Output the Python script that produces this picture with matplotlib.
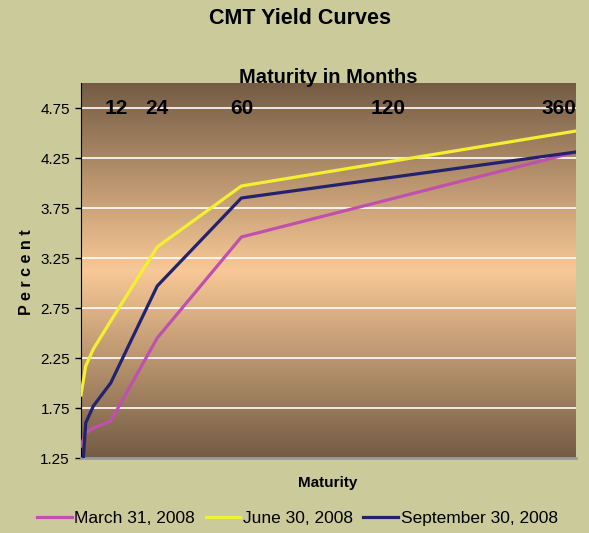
import matplotlib.pyplot as plt
import numpy as np
from matplotlib.colors import LinearSegmentedColormap

# maturities in months and their place along the chart's (uneven) maturity axis
months = [1, 3, 6, 12, 24, 60, 360]
maturity_scale = [0, 0.95, 2.5, 6.0, 15.4, 32.4, 100]

march = [1.37, 1.50, 1.55, 1.62, 2.45, 3.46, 4.31]
june = [1.88, 2.17, 2.34, 2.62, 3.36, 3.97, 4.52]
september = [0.90, 1.60, 1.77, 2.00, 2.97, 3.85, 4.31]

top_labels = ["12", "24", "60", "120", "360"]
top_label_pos = [7.1, 15.4, 32.4, 62.1, 96.6]

yticks = [1.25, 1.75, 2.25, 2.75, 3.25, 3.75, 4.25, 4.75]

bg = "#CACA9A"
plt.rcParams["font.family"] = ["Liberation Sans", "DejaVu Sans"]

fig = plt.figure(figsize=(5.89, 5.33), dpi=100, facecolor=bg)
ax = fig.add_axes([81 / 589, 75 / 533, 495 / 589, 375 / 533])
ax.set_xlim(0, 100)
ax.set_ylim(1.25, 5.0)

# dark -> light -> dark vertical gradient
cmap = LinearSegmentedColormap.from_list("grad", ["#745C44", "#F8C896", "#745C44"])
grad = np.linspace(0, 1, 256).reshape(-1, 1)
ax.imshow(grad, cmap=cmap, extent=[0, 1, 0, 1], transform=ax.transAxes,
          aspect="auto", zorder=0)

for y in np.arange(1.75, 5.0, 0.5):
    ax.axhline(y, color="white", lw=1.2, zorder=1)

ax.plot(maturity_scale, march, color="#C050B0", lw=2.3, label="March 31, 2008", zorder=3)
ax.plot(maturity_scale, june, color="#F2F030", lw=2.3, label="June 30, 2008", zorder=3)
ax.plot(maturity_scale, september, color="#22226E", lw=2.3, label="September 30, 2008", zorder=4)

for lab, xp in zip(top_labels, top_label_pos):
    ax.text(xp, 4.75, lab, ha="center", va="center", fontsize=15, fontweight="bold",
            zorder=5)

ax.text(0.5, 1.016, "Maturity in Months", transform=ax.transAxes, ha="center",
        va="center", fontsize=14.5, fontweight="bold", zorder=6)

ax.set_yticks(yticks)
ax.set_yticklabels([f"{v:.2f}" for v in yticks], fontsize=11)
ax.set_xticks([])
ax.tick_params(axis="y", direction="out", length=4, width=1, pad=4)

ax.spines["top"].set_visible(False)
ax.spines["right"].set_visible(False)
ax.spines["left"].set_color("black")
ax.spines["bottom"].set_color("#9A9A9A")
ax.spines["bottom"].set_linewidth(2)

fig.text(0.51, 0.965, "CMT Yield Curves", ha="center", va="center",
         fontsize=15.5, fontweight="bold")
fig.text(0.045, 0.49, "P e r c e n t", rotation=90, ha="center", va="center",
         fontsize=11.5, fontweight="bold")
fig.text(0.557, 0.093, "Maturity", ha="center", va="center", fontsize=11,
         fontweight="bold")

fig.legend(loc="center", bbox_to_anchor=(0.505, 0.028), ncol=3, frameon=False,
           fontsize=12.5, handlelength=2.0, handletextpad=0.15, columnspacing=0.6)

fig.savefig("out.png", dpi=100, facecolor=bg)
